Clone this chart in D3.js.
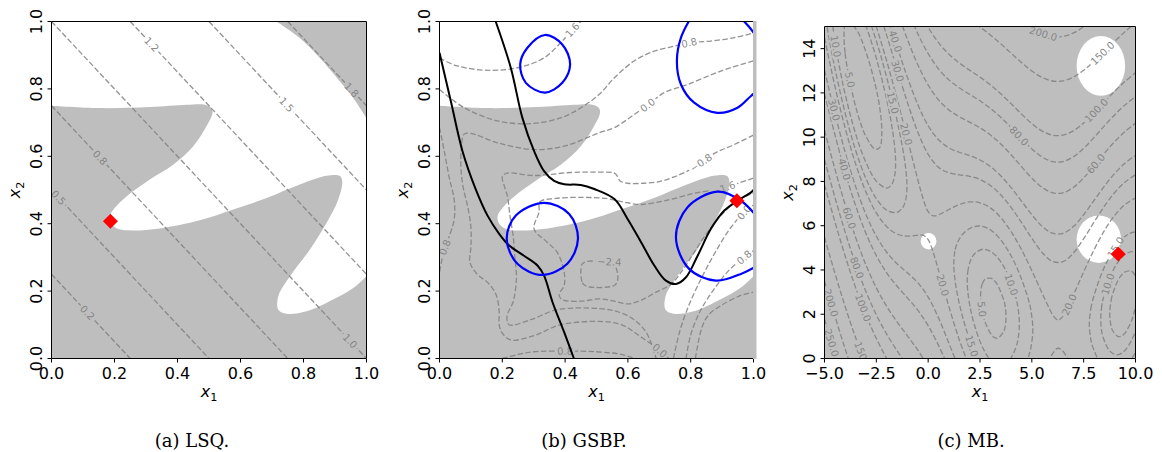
<!DOCTYPE html>
<html>
<head>
<meta charset="utf-8">
<script src="https://cdn.jsdelivr.net/npm/d3@7"></script>
<style>
html,body{margin:0;padding:0;background:#ffffff;}
svg{display:block;}
</style>
</head>
<body>
<svg id="fig" width="1162" height="452"></svg>
<script>
// ---------------- DATA ----------------
const captions = ["(a) LSQ.", "(b) GSBP.", "(c) MB."];
const unitTicks = [0, 0.2, 0.4, 0.6, 0.8, 1.0];
const unitTickLabels = ["0.0", "0.2", "0.4", "0.6", "0.8", "1.0"];
const mbXTicks = [-5, -2.5, 0, 2.5, 5, 7.5, 10];
const mbXTickLabels = ["\u22125.0", "\u22122.5", "0.0", "2.5", "5.0", "7.5", "10.0"];
const mbYTicks = [0, 2, 4, 6, 8, 10, 12, 14];
const mbYTickLabels = ["0", "2", "4", "6", "8", "10", "12", "14"];

// boundary of the infeasible (grey) region shared by panels (a) and (b)
const infeasibleCurve = [
  [0,0.75],[0.153,0.743],[0.312,0.746],[0.429,0.753],[0.487,0.753],[0.508,0.743],[0.511,0.728],
  [0.492,0.689],[0.45,0.63],[0.386,0.575],[0.312,0.531],[0.238,0.481],[0.201,0.447],[0.185,0.422],
  [0.19,0.40],[0.212,0.384],[0.259,0.38],[0.344,0.386],[0.471,0.41],[0.577,0.442],[0.683,0.476],
  [0.788,0.516],[0.873,0.542],[0.915,0.542],[0.923,0.526],[0.910,0.471],[0.873,0.402],[0.820,0.323],
  [0.757,0.244],[0.720,0.185],[0.720,0.145],[0.746,0.133],[0.810,0.140],[0.894,0.175],[0.958,0.209],[1.0,0.244]
];
const lsqCornerCurve = [[0.714,1.0],[0.788,0.951],[0.852,0.892],[0.915,0.823],[0.958,0.773],[1.0,0.713]];

const lsqContours = [
  {id:"c1", pts:[[0,0.25],[0.25,0]]},
  {id:"c2", pts:[[0,0.5],[0.5,0]]},
  {id:"c3", pts:[[0,0.75],[0.75,0]]},
  {id:"c4", pts:[[0,1],[1,0]]},
  {id:"c5", pts:[[0.25,1],[1,0.25]]},
  {id:"c6", pts:[[0.5,1],[1,0.5]]},
  {id:"c7", pts:[[0.75,1],[1,0.75]]}
];
const lsqLabels = [
  ["0.2","c1",0.113,0.135],["0.5","c2",0.021,0.476],["0.8","c3",0.153,0.595],["1.0","c4",0.947,0.051],
  ["1.2","c5",0.317,0.931],["1.5","c6",0.746,0.753],["1.8","c7",0.952,0.797]
];
const lsqBest = [0.187, 0.407];

const gsbpContours = [
  {id:"S1", pts:[[0,0.892],[0.057,0.868],[0.163,0.855],[0.259,0.865],[0.333,0.892],[0.386,0.937],[0.423,0.975],[0.45,1.0]]},
  {id:"S2", pts:[[0,0.798],[0.079,0.744],[0.185,0.705],[0.29,0.697],[0.386,0.714],[0.45,0.744],[0.509,0.784],[0.557,0.833],[0.62,0.883],[0.684,0.912],[0.748,0.927],[0.795,0.937],[0.864,0.942],[0.939,0.952],[1.0,0.966]]},
  {id:"S3", pts:[[1.0,0.883],[0.896,0.853],[0.79,0.813],[0.716,0.789],[0.663,0.752],[0.62,0.724],[0.557,0.685],[0.509,0.67],[0.397,0.63],[0.301,0.62],[0.185,0.64],[0.1,0.668],[0.078,0.665],[0.07,0.63],[0.068,0.57],[0.075,0.51],[0.09,0.45],[0.1,0.39],[0.1,0.33],[0.097,0.285],[0.12,0.25],[0.153,0.226],[0.18,0.19],[0.19,0.14],[0.19,0.1],[0.2,0.075],[0.227,0.055],[0.301,0.068],[0.385,0.1],[0.509,0.11],[0.58,0.1],[0.64,0.065],[0.7,0.025],[0.73,0.0]]},
  {id:"S4", pts:[[0,0.685],[0.015,0.616],[0.031,0.537],[0.047,0.47],[0.047,0.414],[0.03,0.36],[0.017,0.33],[0,0.256]]},
  {id:"S5", pts:[[0.2,0.0],[0.25,0.012],[0.3,0.02],[0.4,0.022],[0.5,0.02],[0.58,0.012],[0.62,0.0]]},
  {id:"S6", pts:[[1.0,0.663],[0.939,0.635],[0.88,0.611],[0.833,0.581],[0.8,0.561],[0.75,0.54],[0.7,0.525],[0.65,0.52],[0.6,0.52],[0.575,0.527],[0.567,0.54],[0.557,0.55],[0.493,0.553],[0.418,0.552],[0.301,0.543],[0.215,0.55],[0.2,0.54],[0.206,0.513],[0.216,0.483],[0.225,0.42],[0.235,0.36],[0.24,0.3],[0.245,0.24],[0.235,0.17],[0.215,0.125],[0.222,0.1],[0.29,0.115],[0.375,0.145],[0.509,0.148],[0.57,0.138],[0.62,0.115],[0.66,0.075],[0.69,0.0]]},
  {id:"S7", pts:[[1.0,0.535],[0.95,0.52],[0.905,0.505],[0.875,0.5],[0.811,0.49],[0.726,0.47],[0.642,0.457],[0.583,0.465],[0.53,0.475],[0.45,0.478],[0.37,0.475],[0.32,0.465],[0.317,0.434],[0.301,0.385],[0.343,0.345],[0.375,0.315],[0.397,0.256],[0.397,0.217],[0.381,0.19],[0.39,0.175],[0.45,0.17],[0.509,0.177],[0.557,0.17],[0.6,0.162],[0.64,0.172],[0.69,0.197],[0.737,0.22],[0.78,0.27],[0.811,0.315],[0.85,0.37],[0.896,0.424],[0.95,0.47],[1.0,0.49]]},
  {id:"S9", closed:true, pts:[[0.454,0.28],[0.455,0.225],[0.47,0.214],[0.555,0.216],[0.567,0.23],[0.562,0.27],[0.545,0.287],[0.5,0.289],[0.47,0.288]]},
  {id:"R0", pts:[[0.745,0.0],[0.765,0.08],[0.795,0.16],[0.835,0.24],[0.875,0.31],[0.925,0.385],[0.97,0.434],[1.0,0.455]]},
  {id:"R08", pts:[[0.785,0.0],[0.80,0.07],[0.83,0.14],[0.87,0.2],[0.92,0.26],[0.97,0.30],[1.0,0.32]]},
  {id:"R16", pts:[[0.815,0.0],[0.835,0.09],[0.856,0.128],[0.896,0.157],[0.96,0.187],[1.0,0.197]]}
];
const gsbpLabels = [
  ["1.6","S1",0.423,0.975],["0.8","S2",0.795,0.937],["0.0","S3",0.663,0.752],["\u22120.8","S6",0.833,0.581],
  ["\u22121.6","S7",0.905,0.505],["0.0","R0",0.97,0.434],["0.8","R08",0.97,0.30],["0.8","S4",0.017,0.33],
  ["\u22122.4","S9",0.541,0.29],["0.8","S5",0.4,0.022],["0.0","S3",0.703,0.025]
];
const gsbpBlack = [
  [[0,0.907],[0.036,0.764],[0.073,0.616],[0.1155,0.502],[0.153,0.424],[0.19,0.37],[0.222,0.335],[0.269,0.305],[0.312,0.276],[0.333,0.246],[0.36,0.167],[0.397,0.078],[0.428,0.0]],
  [[0.179,1.0],[0.227,0.863],[0.264,0.714],[0.301,0.616],[0.333,0.556],[0.365,0.527],[0.397,0.517],[0.45,0.515],[0.493,0.503],[0.557,0.473],[0.599,0.414],[0.642,0.345],[0.684,0.276],[0.721,0.231],[0.753,0.221],[0.785,0.241],[0.822,0.305],[0.864,0.384],[0.907,0.439],[0.949,0.468],[0.992,0.493],[1.0,0.5]]
];
const gsbpBlue = [
  {closed:true, pts:[[0.336,0.960],[0.391,0.932],[0.416,0.873],[0.391,0.818],[0.336,0.789],[0.275,0.818],[0.257,0.873],[0.28,0.922]]},
  {closed:true, pts:[[0.333,0.462],[0.413,0.429],[0.441,0.355],[0.407,0.281],[0.328,0.248],[0.248,0.281],[0.214,0.355],[0.243,0.424]]},
  {closed:false, pts:[[0.806,1.02],[0.769,0.952],[0.756,0.883],[0.769,0.813],[0.811,0.759],[0.885,0.729],[0.949,0.744],[0.992,0.779],[1.02,0.80]]},
  {closed:false, pts:[[0.96,1.01],[0.985,0.985],[1.01,0.955]]},
  {closed:false, pts:[[1.02,0.28],[0.96,0.251],[0.88,0.231],[0.795,0.266],[0.753,0.36],[0.79,0.449],[0.885,0.495],[0.96,0.468],[1.02,0.41]]}
];
const gsbpBest = [0.947, 0.468];

const mbContours = [
  {id:"L5a", closed:true, pts:[[-4.058,14.592],[-4.004,13.785],[-3.914,13.2],[-3.464,11.267],[-3.014,10.06],[-2.564,9.458],[-2.339,9.524],[-2.236,10.218],[-2.339,11.353],[-2.564,12.411],[-3.014,13.881],[-3.464,14.863],[-3.914,15.234],[-4.004,15.123]]},
  {id:"L5b", closed:true, pts:[[2.527,2.833],[2.606,3.361],[2.756,3.59],[3.056,3.615],[3.206,3.502],[3.356,3.314],[3.656,2.607],[3.716,2.342],[3.755,1.877],[3.716,1.449],[3.656,1.251],[3.356,0.916],[3.206,0.944],[3.056,1.067],[2.756,1.621],[2.606,2.142]]},
  {id:"L5c", closed:true, pts:[[8.758,2.001],[8.822,2.612],[8.887,2.879],[9.147,3.514],[9.31,3.752],[9.472,3.905],[9.797,3.953],[9.96,3.775],[10.088,3.122],[9.96,2.191],[9.797,1.68],[9.472,1.125],[9.31,1.009],[9.147,0.997],[8.887,1.277],[8.822,1.464]]},
  {id:"L10a", closed:true, pts:[[-4.65,15.42],[-4.6,15.017],[-4.5,14.355],[-4.25,13.027],[-4,11.928],[-3.5,10.154],[-3,8.854],[-2.5,8.012],[-2,7.701],[-1.75,7.873],[-1.6,8.348],[-1.571,8.819],[-1.6,9.406],[-1.75,10.489],[-2,11.699],[-2.5,13.56],[-3,15.02],[-3.5,16.15],[-4,16.94],[-4.5,17.2],[-4.65,16.965],[-4.712,16.367]]},
  {id:"L10b", closed:true, pts:[[1.885,3.509],[1.908,3.904],[2.028,4.388],[2.228,4.72],[2.628,4.936],[3.028,4.831],[3.428,4.463],[3.828,3.819],[4.228,2.756],[4.348,2.184],[4.398,1.549],[4.348,0.952],[4.308,0.754],[4.228,0.479],[3.828,-0.189],[3.428,-0.336],[3.028,-0.102],[2.628,0.497],[2.228,1.522],[2.028,2.296],[1.908,3.058]]},
  {id:"L10c", closed:true, pts:[[8.324,1.769],[8.356,2.249],[8.426,2.643],[8.776,3.688],[9.126,4.31],[9.476,4.685],[9.826,4.83],[10.176,4.709],[10.351,4.479],[10.523,3.625],[10.351,2.351],[10.176,1.717],[9.826,0.857],[9.476,0.353],[9.126,0.168],[8.776,0.322],[8.426,0.988],[8.356,1.318]]},
  {id:"L15a", pts:[[-5,15.678],[-4.85,14.84],[-4.75,14.321],[-4.5,13.128],[-4,11.075],[-3.5,9.412],[-3,8.128],[-2.5,7.223],[-2,6.701],[-1.5,6.599],[-1.25,6.787],[-1.1,7.104],[-1.023,7.763],[-1.1,8.71],[-1.25,9.595],[-1.5,10.757],[-2,12.699],[-2.5,14.349],[-3,15.746]]},
  {id:"L15b", closed:true, pts:[[1.235,4.283],[1.304,4.915],[1.439,5.282],[1.664,5.611],[2.114,5.927],[2.564,5.98],[3.014,5.804],[3.464,5.405],[3.914,4.78],[4.364,3.921],[4.814,2.73],[4.949,2.208],[5.048,1.309],[4.949,0.46],[4.814,0.014],[4.364,-1.164],[3.914,-1.264],[3.464,-1.329],[3.014,-1.052],[2.564,-0.434],[2.114,0.528],[1.664,1.87],[1.439,2.754],[1.304,3.47]]},
  {id:"L15c", closed:true, pts:[[7.771,1.532],[7.844,2.245],[7.922,2.589],[8.312,3.713],[8.702,4.512],[9.092,5.105],[9.482,5.502],[9.872,5.704],[10.262,5.71],[10.652,5.497],[11.042,4.578],[11.066,4.131],[11.042,3.968],[10.652,2.023],[10.262,0.885],[9.872,0.068],[9.482,-0.454],[9.092,-0.68],[8.702,-0.609],[8.312,-0.232],[7.922,0.572],[7.844,0.865]]},
  {id:"L20a", pts:[[-5,14.49],[-4.5,12.31],[-4,10.399],[-3.5,8.795],[-3,7.52],[-2.5,6.58],[-2,5.959],[-1.5,5.625],[-1,5.527],[-0.5,5.574],[-0.25,5.571],[0,5.369],[0.25,4.775],[0.5,3.982],[1,2.344],[1.5,0.85],[2,-0.41]]},
  {id:"L20b", pts:[[-2.75,15.7],[-2.5,14.992],[-2,13.441],[-1.5,11.731],[-1,9.915],[-0.5,8.082],[-0.25,7.241],[0,6.631],[0.25,6.445],[0.5,6.491],[1,6.732],[1.5,6.956],[2,7.075],[2.5,7.035],[3,6.805],[3.5,6.37],[4,5.735],[4.5,4.922],[5,3.969],[5.5,2.941],[5.75,2.436],[6,1.984],[6.25,1.735],[6.5,1.902],[6.75,2.323],[7,2.851],[7.5,3.913],[8,4.911],[8.5,5.778],[9,6.47],[9.5,6.963],[10,7.252]]},
  {id:"L20c", pts:[[5.75,-0.196],[6,0.218],[6.25,0.463],[6.5,0.324],[6.75,-0.037]]},
  {id:"L30a", pts:[[-5,13.031],[-4.5,11.085],[-4,9.307],[-3.5,7.769],[-3,6.505],[-2.5,5.524],[-2,4.801],[-1.5,4.282],[-1,3.872],[-0.5,3.426],[0,2.775],[0.5,1.835],[1,0.689],[1.5,-0.49]]},
  {id:"L30b", pts:[[-2.5,16.05],[-2,14.599],[-1.5,13.074],[-1,11.57],[-0.5,10.23],[0,9.225],[0.5,8.639],[1,8.387],[1.5,8.3],[2,8.233],[2.5,8.091],[3,7.82],[3.5,7.396],[4,6.827],[4.5,6.147],[5,5.428],[5.5,4.787],[6,4.384],[6.5,4.372],[7,4.761],[7.5,5.413],[8,6.161],[8.5,6.883],[9,7.502],[9.5,7.977],[10,8.3]]},
  {id:"L40a", pts:[[-5,11.964],[-4.5,10.119],[-4,8.41],[-3.5,6.909],[-3,5.652],[-2.5,4.646],[-2,3.869],[-1.5,3.263],[-1,2.74],[-0.5,2.183],[0,1.484],[0.5,0.592],[1,-0.443]]},
  {id:"L40b", pts:[[-2,15.53],[-1.5,14.093],[-1,12.702],[-0.5,11.473],[0,10.516],[0.5,9.882],[1,9.519],[1.5,9.318],[2,9.165],[2.5,8.969],[3,8.673],[3.5,8.256],[4,7.724],[4.5,7.113],[5,6.495],[5.5,5.97],[6,5.66],[6.5,5.654],[7,5.96],[7.5,6.495],[8,7.139],[8.5,7.787],[9,8.365],[9.5,8.83],[10,9.172]]},
  {id:"L60a", pts:[[-5,10.311],[-4.5,8.565],[-4,6.931],[-3.5,5.472],[-3,4.223],[-2.5,3.19],[-2,2.352],[-1.5,1.655],[-1,1.027],[-0.5,0.38],[0,-0.356]]},
  {id:"L60b", pts:[[-1.5,15.7],[-1,14.415],[-0.5,13.276],[0,12.356],[0.5,11.685],[1,11.232],[1.5,10.926],[2,10.682],[2.5,10.425],[3,10.102],[3.5,9.693],[4,9.203],[4.5,8.667],[5,8.148],[5.5,7.726],[6,7.487],[6.5,7.487],[7,7.728],[7.5,8.162],[8,8.704],[8.5,9.274],[9,9.805],[9.5,10.257],[10,10.623]]},
  {id:"L80a", pts:[[-5,8.985],[-4.5,7.291],[-4,5.699],[-3.5,4.265],[-3,3.02],[-2.5,1.972],[-2,1.098],[-1.5,0.352],[-1,-0.33]]},
  {id:"L80b", pts:[[-1,15.772],[-0.5,14.675],[0,13.772],[0.5,13.084],[1,12.589],[1.5,12.229],[2,11.936],[2.5,11.643],[3,11.305],[3.5,10.9],[4,10.435],[4.5,9.941],[5,9.474],[5.5,9.104],[6,8.897],[6.5,8.899],[7,9.111],[7.5,9.495],[8,9.985],[8.5,10.511],[9,11.014],[9.5,11.459],[10,11.838]]},
  {id:"L100a", pts:[[-5,7.845],[-4.5,6.185],[-4,4.621],[-3.5,3.203],[-3,1.962],[-2.5,0.902],[-2,0.005],[-1.5,-0.773]]},
  {id:"L100b", pts:[[-0.5,15.86],[0,14.966],[0.5,14.269],[1,13.747],[1.5,13.354],[2,13.029],[2.5,12.713],[3,12.363],[3.5,11.962],[4,11.513],[4.5,11.047],[5,10.614],[5.5,10.275],[6,10.089],[6.5,10.092],[7,10.286],[7.5,10.64],[8,11.096],[8.5,11.592],[9,12.077],[9.5,12.518],[10,12.905]]},
  {id:"L150a", pts:[[-5,5.471],[-4.5,3.861],[-4,2.339],[-3.5,0.947],[-3,-0.29]]},
  {id:"L150b", pts:[[2,15.334],[2.5,14.981],[3,14.615],[3.5,14.218],[4,13.795],[4.5,13.371],[5,12.988],[5.5,12.695],[6,12.537],[6.5,12.542],[7,12.711],[7.5,13.021],[8,13.426],[8.5,13.88],[9,14.336],[9.5,14.769],[10,15.171]]},
  {id:"L200a", pts:[[-5,3.502],[-4.5,1.921],[-4,0.423],[-3.5,-0.95]]},
  {id:"L200b", pts:[[4.5,15.311],[5,14.957],[5.5,14.689],[6,14.546],[6.5,14.553],[7,14.708],[7.5,14.993],[8,15.37]]},
  {id:"L250", pts:[[-5,1.783],[-4.5,0.221],[-4.4,-0.083]]}
];
const mbLabels = [
  ["10.0","L10a",-4.49,14.1],["5.0","L5a",-3.76,12.6],["30.0","L30a",-4.49,11.25],["40.0","L40a",-4.08,8.54],
  ["60.0","L60a",-3.76,6.36],["80.0","L80a",-3.44,4.1],["100.0","L100a",-3.12,2.3],["200.0","L200a",-4.65,2.53],
  ["250.0","L250",-4.65,0.72],["150.0","L150a",-3.22,0.12],["40.0","L40b",-1.59,14.33],["30.0","L30b",-1.51,12.98],
  ["15.0","L15a",-1.75,11.55],["20.0","L20b",-1.11,10.12],["200.0","L200b",5.49,14.48],["150.0","L150b",8.47,13.73],
  ["100.0","L100b",8.23,11.1],["80.0","L80b",4.29,9.97],["60.0","L60b",8.23,8.69],["20.0","L20a",0.83,3.35],
  ["5.0","L5b",2.6,2.23],["10.0","L10b",4.04,3.35],["15.0","L15b",2.11,0.57],["20.0","L20b",7.26,2.24],
  ["10.0","L10c",8.63,3.37],["15.0","L15c",8.79,5.17]
];
// feasible (white) regions: centre x1, centre x2, radius x1, radius x2
const mbFeasible = [[0.02,5.3,0.38,0.37],[8.33,13.22,1.17,1.35],[8.23,5.39,1.07,1.07]];
const mbBest = [9.165, 4.72];

// ---------------- RENDER ----------------
const W = 1162, H = 452;
const GREY = "#bebebe";
const CONTOUR = "#808080";
const FONT = "DejaVu Sans, sans-serif";
const svg = d3.select("#fig");
const defs = svg.append("defs");

function setupPanel(cfg) {
  const sx = d3.scaleLinear().domain(cfg.xDom).range([cfg.left, cfg.right]);
  const sy = d3.scaleLinear().domain(cfg.yDom).range([cfg.bottom, cfg.top]);
  defs.append("clipPath").attr("id", "clip-" + cfg.id).append("rect")
    .attr("x", cfg.left).attr("y", cfg.top).attr("width", cfg.right - cfg.left).attr("height", cfg.bottom - cfg.top);
  const mask = defs.append("mask").attr("id", "mask-" + cfg.id).attr("maskUnits", "userSpaceOnUse")
    .attr("x", 0).attr("y", 0).attr("width", W).attr("height", H);
  mask.append("rect").attr("x", 0).attr("y", 0).attr("width", W).attr("height", H).attr("fill", "white");
  const g = svg.append("g");
  const plot = g.append("g").attr("clip-path", `url(#clip-${cfg.id})`);
  plot.append("rect").attr("x", cfg.left).attr("y", cfg.top).attr("width", cfg.right - cfg.left)
    .attr("height", cfg.bottom - cfg.top).attr("fill", cfg.bg);
  return {cfg, sx, sy, g, plot, mask, id: cfg.id};
}

function lineGen(P, closed) {
  return d3.line().x(d => P.sx(d[0])).y(d => P.sy(d[1]))
    .curve(closed ? d3.curveCatmullRomClosed.alpha(0.5) : d3.curveCatmullRom.alpha(0.5));
}

function drawContours(P, curves, labels) {
  const lines = P.plot.append("g").attr("mask", `url(#mask-${P.id})`)
    .attr("fill", "none").attr("stroke", CONTOUR).attr("stroke-opacity", 0.85)
    .attr("stroke-width", 1.3).attr("stroke-dasharray", "5.5,2.4");
  curves.forEach(c => lines.append("path").attr("d", lineGen(P, c.closed)(c.pts)));
  const lab = P.plot.append("g").attr("font-family", FONT).attr("font-size", 10)
    .attr("fill", CONTOUR).attr("fill-opacity", 0.95);
  labels.forEach(([txt, id, lx, ly]) => {
    const c = curves.find(d => d.id === id);
    const px = P.sx(lx), py = P.sy(ly);
    const pts = c.closed ? c.pts.concat([c.pts[0]]) : c.pts;
    let best = null;
    for (let i = 0; i < pts.length - 1; i++) {
      const ax = P.sx(pts[i][0]), ay = P.sy(pts[i][1]);
      const bx = P.sx(pts[i + 1][0]), by = P.sy(pts[i + 1][1]);
      const dx = bx - ax, dy = by - ay, L2 = dx * dx + dy * dy;
      let t = L2 > 0 ? ((px - ax) * dx + (py - ay) * dy) / L2 : 0;
      t = Math.max(0, Math.min(1, t));
      const qx = ax + t * dx, qy = ay + t * dy;
      const d = (qx - px) ** 2 + (qy - py) ** 2;
      if (!best || d < best.d) best = {d, qx, qy, ang: Math.atan2(dy, dx) * 180 / Math.PI};
    }
    let ang = best.ang;
    if (ang > 90) ang -= 180;
    if (ang < -90) ang += 180;
    const tf = `translate(${best.qx},${best.qy}) rotate(${ang})`;
    const t = lab.append("text").attr("transform", tf).attr("text-anchor", "middle")
      .attr("dy", "0.36em").text(txt);
    const w = t.node().getComputedTextLength();
    P.mask.append("rect").attr("x", -w / 2 - 2).attr("y", -5).attr("width", w + 4).attr("height", 10)
      .attr("transform", tf).attr("fill", "black");
  });
}

function drawAxes(P, xt, xtl, yt, ytl, showRight) {
  const c = P.cfg;
  const bx = d3.axisBottom(P.sx).tickValues(xt).tickFormat((d, i) => xtl[i]).tickSize(4).tickSizeOuter(0);
  const ly = d3.axisLeft(P.sy).tickValues(yt).tickFormat((d, i) => ytl[i]).tickSize(4).tickSizeOuter(0);
  if (bx.offset) { bx.offset(0); ly.offset(0); }
  const ax = P.g.append("g").attr("transform", `translate(0,${c.bottom})`).call(bx);
  ax.attr("font-size", 16).attr("font-family", FONT);
  ax.selectAll("text").attr("y", 20.5).attr("dy", null).attr("fill", "#000");
  ax.selectAll("line,path").attr("stroke", "#000");
  const ay = P.g.append("g").attr("transform", `translate(${c.left},0)`).call(ly);
  ay.attr("font-size", 16).attr("font-family", FONT);
  ay.selectAll("text").attr("x", null).attr("dy", null).attr("text-anchor", "middle")
    .attr("transform", "translate(-9.5,0) rotate(-90)").attr("fill", "#000");
  ay.selectAll("line,path").attr("stroke", "#000");
  P.g.append("line").attr("x1", c.left).attr("x2", c.right).attr("y1", c.top).attr("y2", c.top)
    .attr("stroke", "#000").attr("stroke-width", 1);
  if (showRight) {
    P.g.append("line").attr("x1", c.right).attr("x2", c.right).attr("y1", c.top).attr("y2", c.bottom)
      .attr("stroke", "#000").attr("stroke-width", 1);
  }
  // axis labels
  const xl = P.g.append("text").attr("font-family", FONT).attr("font-size", 16).attr("text-anchor", "middle")
    .attr("transform", `translate(${(c.left + c.right) / 2},${c.xLabelY})`);
  xl.append("tspan").attr("font-style", "italic").text("x");
  xl.append("tspan").attr("font-size", 11.2).attr("dy", 3.5).text("1");
  const yl = P.g.append("text").attr("font-family", FONT).attr("font-size", 16).attr("text-anchor", "middle")
    .attr("transform", `translate(${c.yLabelX},${(c.top + c.bottom) / 2}) rotate(-90)`);
  yl.append("tspan").attr("font-style", "italic").text("x");
  yl.append("tspan").attr("font-size", 11.2).attr("dy", 3.5).text("2");
}

function drawBest(P, pt) {
  P.g.append("path").attr("d", d3.symbol().type(d3.symbolSquare).size(112)())
    .attr("transform", `translate(${P.sx(pt[0])},${P.sy(pt[1])}) rotate(45)`)
    .attr("fill", "#ff0000");
}

// ----- panel (a) -----
const A = setupPanel({id: "a", left: 51.5, right: 366.5, top: 21.5, bottom: 358.5,
  xDom: [0, 1], yDom: [0, 1], bg: "#ffffff", xLabelY: 397, yLabelX: 20});
{
  const lg = lineGen(A, false);
  A.plot.append("path").attr("fill", GREY)
    .attr("d", lg(infeasibleCurve) + `L${A.sx(1)},${A.sy(0)}L${A.sx(0)},${A.sy(0)}Z`);
  A.plot.append("path").attr("fill", GREY)
    .attr("d", lg(lsqCornerCurve) + `L${A.sx(1)},${A.sy(1)}Z`);
  drawContours(A, lsqContours, lsqLabels);
  drawAxes(A, unitTicks, unitTickLabels, unitTicks, unitTickLabels, true);
  drawBest(A, lsqBest);
}

// ----- panel (b) -----
const B = setupPanel({id: "b", left: 439.5, right: 753.5, top: 21.5, bottom: 358.5,
  xDom: [0, 1], yDom: [0, 1], bg: "#ffffff", xLabelY: 397, yLabelX: 408});
{
  const lg = lineGen(B, false);
  B.plot.append("path").attr("fill", GREY)
    .attr("d", lg(infeasibleCurve) + `L${B.sx(1)},${B.sy(0)}L${B.sx(0)},${B.sy(0)}Z`);
  drawContours(B, gsbpContours, gsbpLabels);
  gsbpBlack.forEach(pts => B.plot.append("path").attr("d", lineGen(B, false)(pts))
    .attr("fill", "none").attr("stroke", "#000").attr("stroke-width", 2).attr("stroke-linejoin", "round"));
  gsbpBlue.forEach(c => B.plot.append("path").attr("d", lineGen(B, c.closed)(c.pts))
    .attr("fill", "none").attr("stroke", "#0000ff").attr("stroke-width", 2.2).attr("stroke-linejoin", "round"));
  drawAxes(B, unitTicks, unitTickLabels, unitTicks, unitTickLabels, false);
  B.g.append("rect").attr("x", B.cfg.right - 0.5).attr("y", B.cfg.top - 0.5).attr("width", 3.5)
    .attr("height", B.cfg.bottom - B.cfg.top + 1).attr("fill", GREY);
  drawBest(B, gsbpBest);
}

// ----- panel (c) -----
const C = setupPanel({id: "c", left: 824.5, right: 1135.5, top: 26.5, bottom: 358.5,
  xDom: [-5, 10], yDom: [0, 15], bg: GREY, xLabelY: 397, yLabelX: 793});
{
  mbFeasible.forEach(([cx, cy, rx, ry]) => {
    C.plot.append("ellipse").attr("cx", C.sx(cx)).attr("cy", C.sy(cy))
      .attr("rx", C.sx(cx + rx) - C.sx(cx)).attr("ry", C.sy(cy - ry) - C.sy(cy)).attr("fill", "#ffffff");
  });
  drawContours(C, mbContours, mbLabels);
  drawAxes(C, mbXTicks, mbXTickLabels, mbYTicks, mbYTickLabels, true);
  drawBest(C, mbBest);
}

// ----- captions -----
const capX = [192, 584, 971];
captions.forEach((t, i) => svg.append("text").attr("x", capX[i]).attr("y", 447)
  .attr("text-anchor", "middle").attr("font-family", "DejaVu Serif, serif").attr("font-size", 18)
  .attr("fill", "#000").text(t));
</script>
</body>
</html>
